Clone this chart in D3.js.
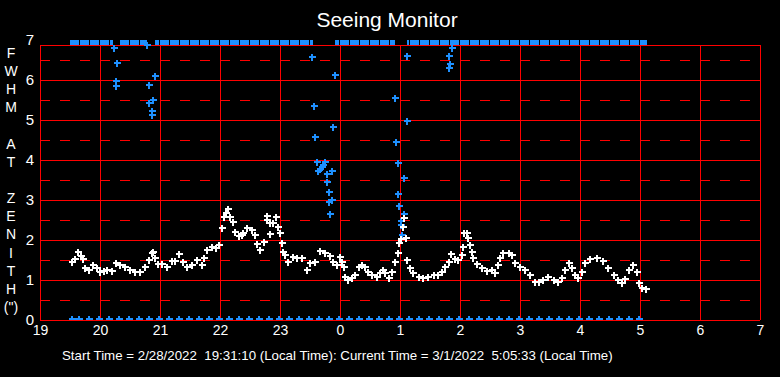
<!DOCTYPE html>
<html>
<head>
<meta charset="utf-8">
<script src="https://cdn.jsdelivr.net/npm/d3@7"></script>
<style>
  body { margin: 0; background: #000; }
  text { font-family: "Liberation Sans", Arial, sans-serif; fill: #fff; }
</style>
</head>
<body>
<div id="chart"></div>
<script>
// Hour axis runs 19 .. 31 (hours after midnight of the start day), labels wrap at 24.
var hourTicks = [19, 20, 21, 22, 23, 24, 25, 26, 27, 28, 29, 30, 31];
var fwhmTicks = [0, 1, 2, 3, 4, 5, 6, 7];
var yTitle = ["F", "W", "H", "M", "", "A", "T", "", "Z", "E", "N", "I", "T", "H", "(\")"];

// Seeing measurements (white crosses).
var seeingTime = [19.53, 19.58, 19.64, 19.68, 19.72, 19.75, 19.81, 19.89, 19.95, 20.00, 20.06, 20.11, 20.20, 20.27,
  20.33, 20.42, 20.50, 20.58, 20.67, 20.75, 20.81, 20.86, 20.89, 20.92, 20.97, 21.03, 21.11, 21.20, 21.25, 21.32,
  21.39, 21.45, 21.53, 21.61, 21.70, 21.73, 21.78, 21.86, 21.93, 21.99, 22.03, 22.06, 22.10, 22.14, 22.17, 22.22,
  22.25, 22.31, 22.36, 22.39, 22.45, 22.53, 22.58, 22.61, 22.66, 22.73, 22.78, 22.79, 22.83, 22.83, 22.89, 22.93,
  22.96, 23.00, 23.03, 23.05, 23.08, 23.14, 23.22, 23.28, 23.36, 23.45, 23.50, 23.58, 23.67, 23.75, 23.83, 23.89,
  23.95, 24.00, 24.03, 24.06, 24.08, 24.14, 24.20, 24.25, 24.31, 24.36, 24.42, 24.47, 24.53, 24.61, 24.67, 24.71,
  24.75, 24.81, 24.86, 24.92, 24.97, 24.99, 25.01, 25.05, 25.07, 25.10, 25.12, 25.17, 25.22, 25.31, 25.39, 25.47,
  25.56, 25.64, 25.70, 25.75, 25.81, 25.85, 25.92, 25.97, 26.03, 26.05, 26.06, 26.11, 26.14, 26.17, 26.20, 26.22,
  26.28, 26.36, 26.45, 26.53, 26.58, 26.64, 26.67, 26.72, 26.81, 26.86, 26.92, 27.00, 27.08, 27.17, 27.25, 27.31,
  27.39, 27.47, 27.56, 27.64, 27.70, 27.75, 27.81, 27.86, 27.92, 27.97, 28.03, 28.08, 28.17, 28.28, 28.39, 28.47,
  28.56, 28.64, 28.70, 28.75, 28.81, 28.89, 28.95, 28.99, 29.03, 29.10];
var seeingFwhm = [1.46, 1.52, 1.71, 1.60, 1.52, 1.29, 1.25, 1.37, 1.29, 1.21, 1.23, 1.25, 1.22, 1.42,
  1.37, 1.33, 1.25, 1.19, 1.21, 1.33, 1.50, 1.67, 1.71, 1.54, 1.40, 1.40, 1.33, 1.48, 1.48, 1.65,
  1.46, 1.33, 1.37, 1.50, 1.37, 1.54, 1.75, 1.83, 1.79, 1.87, 2.29, 2.58, 2.67, 2.77, 2.57, 2.46,
  2.21, 2.10, 2.12, 2.17, 2.31, 2.25, 2.12, 1.90, 1.75, 1.96, 2.50, 2.60, 2.42, 2.15, 2.42, 2.57,
  2.33, 2.17, 1.92, 1.71, 1.62, 1.46, 1.58, 1.54, 1.54, 1.25, 1.42, 1.46, 1.73, 1.67, 1.60, 1.46,
  1.37, 1.58, 1.46, 1.33, 1.08, 1.00, 1.04, 1.12, 1.33, 1.37, 1.33, 1.21, 1.12, 1.08, 1.17, 1.25,
  1.17, 1.04, 1.21, 1.46, 1.67, 1.92, 2.02, 2.33, 2.54, 2.04, 1.50, 1.29, 1.17, 1.08, 1.04, 1.08,
  1.12, 1.12, 1.21, 1.33, 1.46, 1.65, 1.52, 1.50, 1.62, 1.83, 2.17, 2.17, 2.05, 1.87, 1.70, 1.55,
  1.40, 1.31, 1.23, 1.24, 1.17, 1.37, 1.56, 1.68, 1.67, 1.62, 1.42, 1.33, 1.25, 1.12, 0.96, 0.96,
  1.00, 1.07, 1.00, 0.96, 1.04, 1.25, 1.42, 1.29, 1.12, 1.04, 1.21, 1.42, 1.52, 1.54, 1.48, 1.29,
  1.12, 1.00, 0.92, 1.03, 1.25, 1.37, 1.20, 0.92, 0.79, 0.77];

// Rejected / flagged measurements (blue crosses).
var flaggedTime = [20.24, 20.29, 20.26, 20.27, 20.91, 20.81, 20.89, 20.82, 20.86, 20.87, 20.79,
  23.54, 23.92, 23.57, 23.89, 23.59, 23.61, 23.75, 23.72, 23.70, 23.67, 23.64, 23.87, 23.78, 23.79,
  23.81, 23.82, 23.86, 23.84, 24.91, 25.12, 25.11, 24.94, 24.96, 25.07, 24.97, 24.99, 25.06, 25.01,
  25.02, 25.04, 25.86, 25.81, 25.84, 25.82];
var flaggedFwhm = [6.79, 6.42, 5.97, 5.84, 6.09, 5.87, 5.49, 5.42, 5.22, 5.12, 6.88,
  6.57, 6.12, 5.34, 4.82, 4.57, 3.96, 3.94, 3.88, 3.83, 3.77, 3.72, 3.72, 3.65, 3.44,
  3.21, 2.95, 2.99, 2.64, 5.54, 6.59, 4.97, 4.44, 3.92, 3.54, 3.14, 2.84, 2.64, 2.48,
  2.38, 2.12, 6.79, 6.59, 6.39, 6.29];

// Zero readings along the bottom (blue crosses).
var zeroTimes = ["19:32", "19:39", "19:49", "19:59", "20:09", "20:19", "20:29", "20:39", "20:49", "20:59",
  "21:09", "21:19", "21:29", "21:39", "21:49", "21:59", "22:09", "22:19", "22:29", "22:39", "22:49", "22:59",
  "23:09", "23:19", "23:29", "23:39", "23:49", "23:59", "00:09", "00:19", "00:29", "00:39", "00:49", "00:59",
  "01:09", "01:19", "01:29", "01:39", "01:49", "01:59", "02:09", "02:19", "02:29", "02:39", "02:49", "02:59",
  "03:09", "03:19", "03:29", "03:39", "03:49", "03:59", "04:09", "04:19", "04:29", "04:39", "04:49", "04:59"];

// Periods where the reading is off scale (blue band at the top).
var saturatedSpans = [[19.50, 20.22], [20.33, 20.78], [20.92, 23.55], [23.92, 24.92], [25.12, 29.12]];

var svgWidth = 780;
var svgHeight = 377;
var plot = { left: 40, right: 760, top: 45, bottom: 320 };

var svg = d3.select("#chart")
  .append("svg")
  .attr("width", svgWidth)
  .attr("height", svgHeight)
  .style("display", "block")
  .style("background", "#000");

var xScale = d3.scaleLinear().domain([19, 31]).range([plot.left, plot.right]);
var yScale = d3.scaleLinear().domain([0, 7]).range([plot.bottom, 40]);

function toHours(s) {
  var p = s.split(":");
  var h = +p[0] + (+p[1]) / 60;
  return h < 12 ? h + 24 : h;
}

// Grid.
var grid = svg.append("g").attr("shape-rendering", "crispEdges");

grid.selectAll(".hline")
  .data(d3.range(0, 7))
  .enter()
  .append("line")
  .attr("x1", plot.left).attr("x2", plot.right)
  .attr("y1", d => yScale(d) + 0.5).attr("y2", d => yScale(d) + 0.5)
  .attr("stroke", "#ff0000");

grid.selectAll(".dline")
  .data(d3.range(0.5, 7, 1))
  .enter()
  .append("line")
  .attr("x1", plot.left).attr("x2", plot.right)
  .attr("y1", d => yScale(d) + 0.5).attr("y2", d => yScale(d) + 0.5)
  .attr("stroke", "#ff0000")
  .attr("stroke-dasharray", "10,10");

grid.selectAll(".vline")
  .data(hourTicks)
  .enter()
  .append("line")
  .attr("x1", d => xScale(d) + 0.5).attr("x2", d => xScale(d) + 0.5)
  .attr("y1", plot.top).attr("y2", plot.bottom)
  .attr("stroke", "#ff0000");

grid.append("line")
  .attr("x1", plot.left).attr("x2", plot.right + 1)
  .attr("y1", plot.top + 0.5).attr("y2", plot.top + 0.5)
  .attr("stroke", "#ff0000");

// Axes.
var bottomAxis = d3.axisBottom(xScale)
  .tickValues(hourTicks)
  .tickSize(0)
  .tickPadding(5)
  .tickFormat(d => d % 24);

var xAxis = svg.append("g")
  .attr("transform", `translate(0, ${plot.bottom})`)
  .call(bottomAxis);
xAxis.select(".domain").remove();
xAxis.selectAll("text").attr("font-size", "14px").attr("fill", "#fff").attr("font-family", null);

var leftAxis = d3.axisLeft(yScale)
  .tickValues(fwhmTicks)
  .tickSize(0)
  .tickPadding(6)
  .tickFormat(d3.format("d"));

var yAxis = svg.append("g")
  .attr("transform", `translate(${plot.left}, 0)`)
  .call(leftAxis);
yAxis.select(".domain").remove();
yAxis.selectAll("text").attr("font-size", "15px").attr("fill", "#fff").attr("font-family", null);

// Markers.
var cross = "M-3.5,-1h7v2h-7z M-1,-3.5h2v7h-2z";

svg.append("defs").append("clipPath").attr("id", "clip")
  .append("rect").attr("x", plot.left).attr("y", 36).attr("width", plot.right - plot.left).attr("height", plot.bottom - 36);

var marks = svg.append("g").attr("clip-path", "url(#clip)").attr("shape-rendering", "crispEdges");

// Top band of off-scale readings.
var band = marks.append("g");
band.selectAll("rect")
  .data(saturatedSpans)
  .enter()
  .append("rect")
  .attr("x", d => xScale(d[0]))
  .attr("width", d => xScale(d[1]) - xScale(d[0]))
  .attr("y", 40)
  .attr("height", 5)
  .attr("fill", "#1e90ff");

saturatedSpans.forEach(function(s) {
  var x0 = xScale(s[0]), x1 = xScale(s[1]);
  var ticks = d3.range(Math.ceil((x0 - 9) / 10) * 10 + 9, x1 - 2, 10);
  band.selectAll(null)
    .data(ticks)
    .enter()
    .append("rect")
    .attr("x", d => d)
    .attr("y", 40)
    .attr("width", 1)
    .attr("height", 5)
    .attr("fill", "#000");
});

marks.selectAll(".zero")
  .data(zeroTimes)
  .enter()
  .append("path")
  .attr("d", cross)
  .attr("transform", d => `translate(${Math.round(xScale(toHours(d)))}, ${yScale(0) - 1})`)
  .attr("fill", "#1e90ff");

marks.selectAll(".flag")
  .data(flaggedTime)
  .enter()
  .append("path")
  .attr("d", cross)
  .attr("transform", (d, i) => `translate(${Math.round(xScale(d))}, ${Math.round(yScale(flaggedFwhm[i]))})`)
  .attr("fill", "#1e90ff");

marks.selectAll(".seeing")
  .data(seeingTime)
  .enter()
  .append("path")
  .attr("d", cross)
  .attr("transform", (d, i) => `translate(${Math.round(xScale(d))}, ${Math.round(yScale(seeingFwhm[i]))})`)
  .attr("fill", "#fff");

// Titles.
svg.append("text")
  .attr("x", 387)
  .attr("y", 27)
  .attr("text-anchor", "middle")
  .attr("font-size", "21px")
  .text("Seeing Monitor");

svg.selectAll(".ylab")
  .data(yTitle)
  .enter()
  .append("text")
  .attr("x", 11)
  .attr("y", (d, i) => 58 + i * 18.14)
  .attr("text-anchor", "middle")
  .attr("font-size", "14px")
  .text(d => d);

svg.append("text")
  .attr("x", 62)
  .attr("y", 360)
  .attr("font-size", "13.3px")
  .attr("xml:space", "preserve")
  .style("white-space", "pre")
  .text("Start Time = 2/28/2022  19:31:10 (Local Time): Current Time = 3/1/2022  5:05:33 (Local Time)");
</script>
</body>
</html>
